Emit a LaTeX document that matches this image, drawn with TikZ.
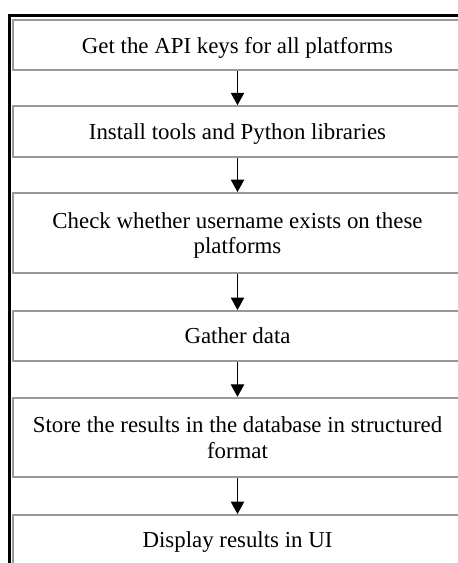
\documentclass[tikz,border=0pt]{standalone}
\usepackage{fontspec}
\setmainfont{Liberation Serif}
\usetikzlibrary{arrows.meta,positioning}

\begin{document}
\begin{tikzpicture}[x=0.525pt,y=-0.525pt,>={Triangle[width=7pt,length=6.5pt]},
	stepbox/.style={draw=black!40,line width=1pt,minimum width=235.7pt,
		align=center,inner sep=0pt,text depth=0pt,font=\fontsize{12}{13.2}\selectfont},
	flow/.style={->,line width=0.5pt}]

\useasboundingbox (0,0) rectangle (458,563);

\begin{scope}
\clip (0,0) rectangle (458,563);

% outer frame
\draw[line width=1.4pt] (9.7,600)--(9.7,15.2)--(500,15.2);

\node[stepbox,minimum height=26.25pt] (keys) at (237.5,45) {Get the API keys for all platforms};
\node[stepbox,minimum height=26.6pt] (tools) at (237.5,131.5) {Install tools and Python libraries};
\node[stepbox,minimum height=42pt] (check) at (237.5,233) {Check whether username exists on these\\platforms};
\node[stepbox,minimum height=26.25pt] (gather) at (237.5,336) {Gather data};
\node[stepbox,minimum height=41.7pt] (store) at (237.5,437.5) {Store the results in the database in structured\\format};
\node[stepbox,minimum height=26.25pt] (show) at (237.5,540) {Display results in UI};

\foreach \a/\b in {keys/tools,tools/check,check/gather,gather/store,store/show}{
	\draw[flow] (\a)--(\b);
}

\end{scope}

\end{tikzpicture}
\end{document}
